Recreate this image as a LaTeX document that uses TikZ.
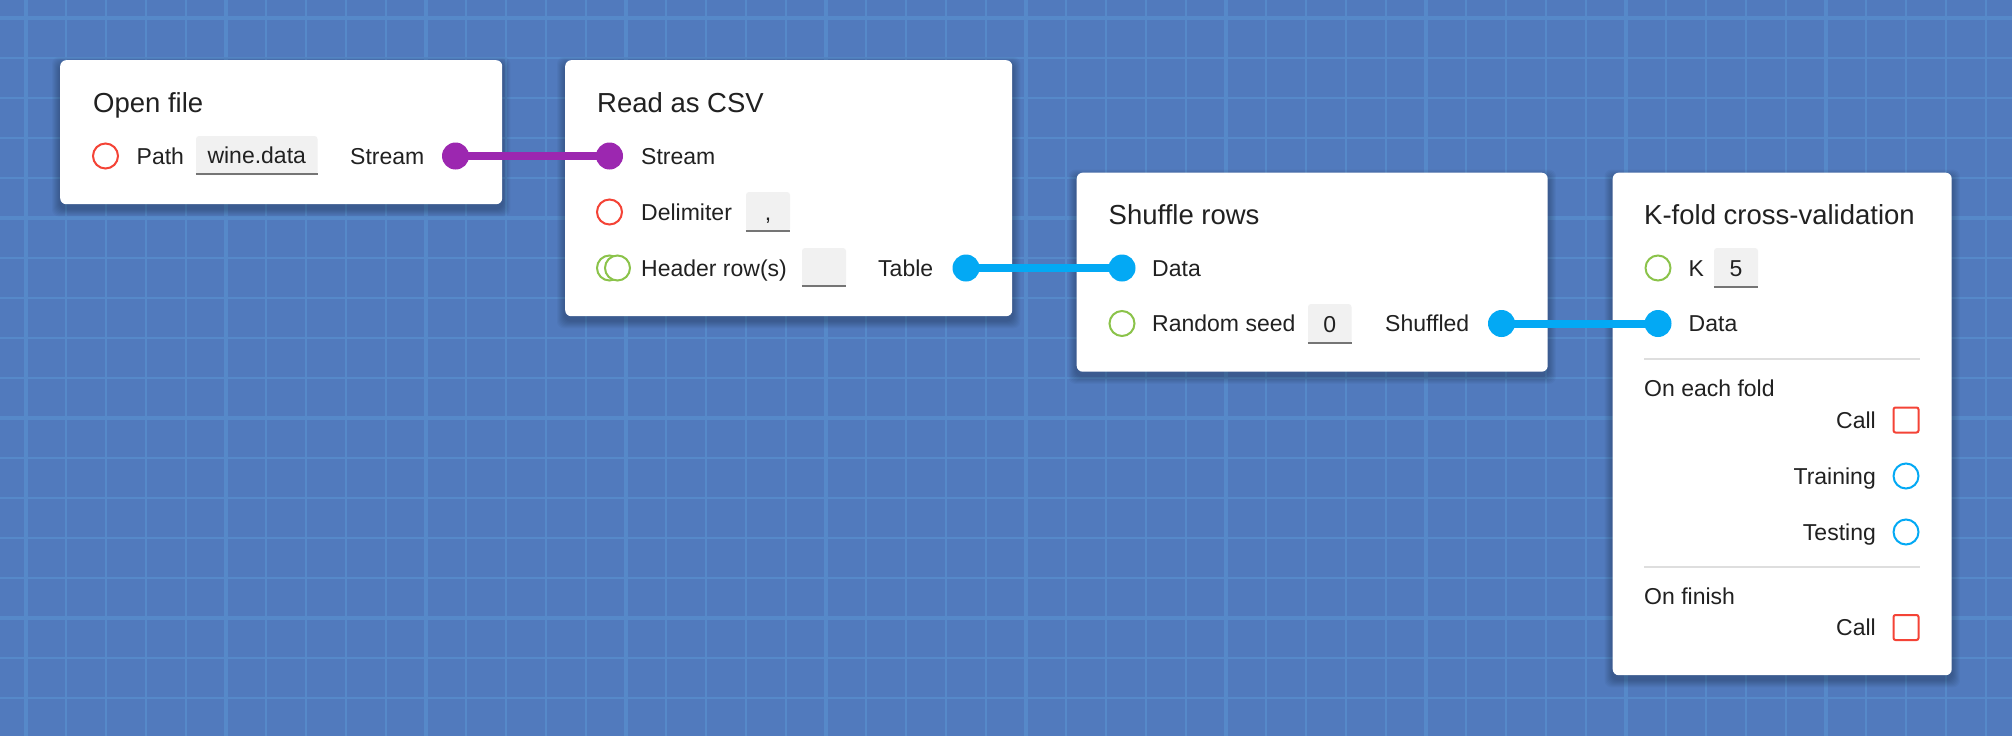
\documentclass[tikz,border=0pt]{standalone}
\usepackage{fontspec}
\setmainfont{Liberation Sans}
\definecolor{bgblue}{RGB}{81,122,189}
\definecolor{gridline}{RGB}{86,137,201}
\definecolor{portred}{RGB}{244,67,54}
\definecolor{portgreen}{RGB}{139,195,74}
\definecolor{portblue}{RGB}{3,169,244}
\definecolor{portpurple}{RGB}{156,39,176}
\definecolor{inbg}{RGB}{241,241,241}
\definecolor{inline}{RGB}{117,117,117}
\definecolor{sepgray}{RGB}{222,222,222}
\definecolor{ink}{RGB}{33,33,33}
\newcommand\bodyfont{\fontsize{23}{27}\selectfont}
\newcommand\titlefont{\fontsize{27.5}{32}\selectfont}
\pgfdeclarelayer{gridlayer}
\pgfdeclarelayer{shadowlayer}
\pgfsetlayers{gridlayer,shadowlayer,main}
\begin{document}
\begin{tikzpicture}[x=1pt,y=-1pt,
  card/.style={fill=white, rounded corners=6pt, inner sep=0pt, anchor=north west},
  lbl/.style={font=\bodyfont, text=ink, inner sep=0pt, text height=16.5pt, text depth=0pt, anchor=west},
  rlbl/.style={lbl, anchor=east},
  ttl/.style={font=\titlefont, text=ink, inner sep=0pt, text height=19.7pt, text depth=0pt, anchor=west},
  inbox/.style={fill=inbg, rounded corners=3pt, inner sep=0pt, font=\bodyfont, text=ink, text height=16.5pt, text depth=0pt},
  underln/.style={line width=2pt, draw=inline},
  pfill/.style={circle, fill=#1, minimum size=27pt, inner sep=0pt},
  phollow/.style={circle, draw=#1, fill=white, line width=2pt, minimum size=25pt, inner sep=0pt},
  psquare/.style={rectangle, draw=portred, fill=white, line width=2pt, minimum size=25pt, inner sep=0pt, rounded corners=2pt},
  wire/.style={line width=8pt, draw=#1},
  sepline/.style={line width=2pt, draw=sepgray}
]
\useasboundingbox (0,0) rectangle (2012,736);
\begin{pgfonlayer}{gridlayer}
\fill[bgblue] (0,0) rectangle (2012,736);
\foreach \i in {0,...,49} \draw[gridline, line width=1.5pt] ({26+40*\i},0) -- ({26+40*\i},736);
\foreach \j in {0,...,17} \draw[gridline, line width=1.5pt] (0,{18+40*\j}) -- (2012,{18+40*\j});
\foreach \i in {0,...,9} \draw[gridline, line width=4pt] ({26+200*\i},0) -- ({26+200*\i},736);
\foreach \j in {0,...,3} \draw[gridline, line width=4pt] (0,{18+200*\j}) -- (2012,{18+200*\j});
\end{pgfonlayer}

% cards
\node[card, minimum width=442pt, minimum height=144pt] (open) at (60,60) {};
\node[card, minimum width=447pt, minimum height=256pt] (csv) at (565,60) {};
\node[card, minimum width=471pt, minimum height=199pt] (shuf) at (1076.5,172.5) {};
\node[card, minimum width=339pt, minimum height=502.5pt] (kfold) at (1612.5,172.5) {};

\begin{pgfonlayer}{shadowlayer}
\foreach \c in {open,csv,shuf,kfold}{
  \foreach \d in {1,...,8}{
    \fill[black, opacity=0.03, rounded corners=7pt] ([xshift={-\d}, yshift={\d-5}]\c.north west) rectangle ([xshift={\d}, yshift={-\d-4}]\c.south east);
  }
}
\end{pgfonlayer}

% Open file
\node[ttl] (t1) at (93,103) {Open file};
\node[phollow=portred] (pathp) at (105.5,156) {};
\node[lbl] (pathl) at (136.5,156) {Path};
\node[inbox, minimum width=121.5pt, minimum height=39pt] (pathin) at (256.75,155.5) {wine.data};
\node[lbl] (streamo) at (350,156) {Stream};

% Read as CSV
\node[ttl] (t2) at (597,103) {Read as CSV};
\node[lbl] (streami) at (641,156) {Stream};
\node[phollow=portred] (delp) at (609.5,212) {};
\node[lbl] (dell) at (641,212) {Delimiter};
\node[inbox, minimum width=44pt, minimum height=39.5pt] (delin) at (768,211.75) {,};
\node[phollow=portgreen] (hdrp0) at (609.5,268) {};
\node[phollow=portgreen] (hdrp) at (617.5,268) {};
\node[lbl] (hdrl) at (641,268) {Header row(s)};
\node[inbox, minimum width=44pt, minimum height=39pt] (hdrin) at (824,267.5) {};
\node[lbl] (tablel) at (878,268) {Table};

% Shuffle rows
\node[ttl] (t3) at (1108.5,215) {Shuffle rows};
\node[lbl] (datal1) at (1152,268) {Data};
\node[phollow=portgreen] (seedp) at (1122,323.5) {};
\node[lbl] (seedl) at (1152,323.5) {Random seed};
\node[inbox, minimum width=43.5pt, minimum height=39.5pt] (seedin) at (1329.75,323.75) {0};
\node[lbl] (shufl) at (1385,323.5) {Shuffled};

% K-fold cross-validation
\node[ttl] (t4) at (1644,215) {K-fold cross-validation};
\node[phollow=portgreen] (kp) at (1658,268) {};
\node[lbl] (kl) at (1688.5,268) {K};
\node[inbox, minimum width=44pt, minimum height=39.5pt] (kin) at (1736,267.75) {5};
\node[lbl] (datal2) at (1688.5,323.5) {Data};
\draw[sepline] (1644,359) -- (1920,359);
\node[lbl] (eachl) at (1644,388) {On each fold};
\node[rlbl] (call1l) at (1876,420) {Call};
\node[psquare] (call1p) at (1906,420) {};
\node[rlbl] (trainl) at (1876,476) {Training};
\node[phollow=portblue] (trainp) at (1906,476) {};
\node[rlbl] (testl) at (1876,532) {Testing};
\node[phollow=portblue] (testp) at (1906,532) {};
\draw[sepline] (1644,567) -- (1920,567);
\node[lbl] (finl) at (1644,596) {On finish};
\node[rlbl] (call2l) at (1876,627.5) {Call};
\node[psquare] (call2p) at (1906,627.5) {};

% underlines of inputs
\foreach \n in {pathin,delin,hdrin,seedin,kin}
  \draw[underln] ([yshift=1pt]\n.south west) -- ([yshift=1pt]\n.south east);

% filled ports
\node[pfill=portpurple] (streamop) at (455.5,156) {};
\node[pfill=portpurple] (streamip) at (609.5,156) {};
\node[pfill=portblue] (tablep) at (966,268) {};
\node[pfill=portblue] (datap1) at (1122,268) {};
\node[pfill=portblue] (shufp) at (1501.5,323.5) {};
\node[pfill=portblue] (datap2) at (1658,323.5) {};

% connectors
\draw[wire=portpurple] (streamop.center) -- (streamip.center);
\draw[wire=portblue] (tablep.center) -- (datap1.center);
\draw[wire=portblue] (shufp.center) -- (datap2.center);
\end{tikzpicture}
\end{document}
